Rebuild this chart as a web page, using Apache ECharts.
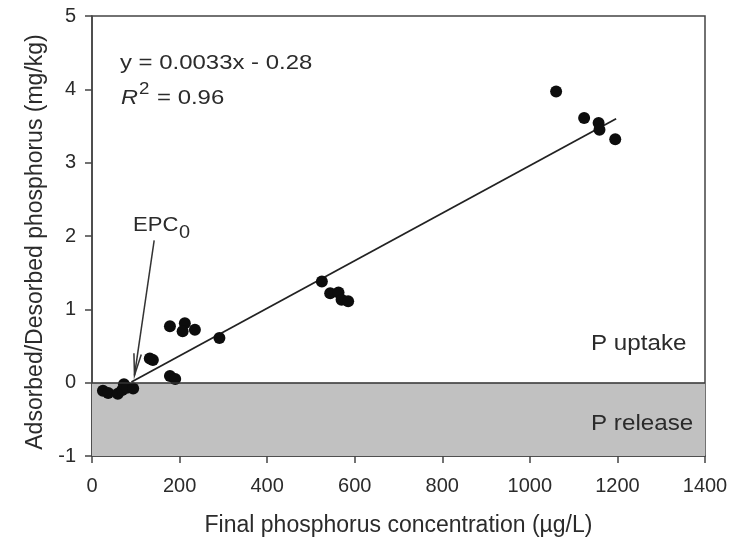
<!DOCTYPE html>
<html><head><meta charset="utf-8">
<script src="https://cdn.jsdelivr.net/npm/echarts@6/dist/echarts.min.js"></script>
<style>html,body{margin:0;padding:0;background:#fff}#c{width:737px;height:542px}</style>
</head><body><div id="c"></div>
<script>
// Data
const pointsX = [25, 37, 59, 69, 73, 80, 94, 132, 139, 178, 190, 178, 212, 207, 235, 291, 525, 544, 563, 570, 585, 1060, 1124, 1157, 1159, 1195];
const pointsY = [-0.11, -0.14, -0.15, -0.10, -0.02, -0.07, -0.08, 0.33, 0.31, 0.09, 0.05, 0.77, 0.81, 0.70, 0.72, 0.61, 1.38, 1.22, 1.23, 1.13, 1.11, 3.97, 3.61, 3.54, 3.45, 3.32];
const fitX = [90, 1197];
const fitY = [0.01, 3.60];
const xTicks = [0, 200, 400, 600, 800, 1000, 1200, 1400];
const yTicks = [-1, 0, 1, 2, 3, 4, 5];
const arrowFrom = [142, 1.94];
const arrowTo = [97, 0.1];

const FONT = 'Liberation Sans, Arial, sans-serif';
const TXT = '#2b2b2b';
const chart = echarts.init(document.getElementById('c'), null, {renderer: 'canvas'});
const scatter = pointsX.map((x, i) => [x, pointsY[i]]);
const fit = fitX.map((x, i) => [x, fitY[i]]);

chart.setOption({
  animation: false,
  backgroundColor: '#fff',
  grid: {left: 92, right: 32, top: 16, bottom: 83, show: true, borderColor: '#444', borderWidth: 1.5},
  xAxis: {
    type: 'value', min: xTicks[0], max: xTicks[xTicks.length - 1], interval: 200,
    name: 'Final phosphorus concentration (µg/L)', nameLocation: 'middle', nameGap: 58,
    nameTextStyle: {fontFamily: FONT, fontSize: 23, color: TXT},
    axisLine: {show: true, onZero: false, lineStyle: {color: '#444', width: 1.5}},
    axisTick: {show: true, inside: false, length: 7, lineStyle: {color: '#444', width: 1.5}},
    axisLabel: {fontFamily: FONT, fontSize: 20, color: TXT, margin: 20, formatter: v => String(v)},
    splitLine: {show: false}
  },
  yAxis: {
    type: 'value', min: yTicks[0], max: yTicks[yTicks.length - 1], interval: 1,
    name: 'Adsorbed/Desorbed phosphorus (mg/kg)', nameLocation: 'middle', nameGap: 42,
    nameTextStyle: {fontFamily: FONT, fontSize: 23, color: TXT, padding: [0, 12, 0, 0]},
    axisLine: {show: true, onZero: false, lineStyle: {color: '#444', width: 1.5}},
    axisTick: {show: true, inside: false, length: 7, lineStyle: {color: '#444', width: 1.5}},
    axisLabel: {fontFamily: FONT, fontSize: 20, color: TXT, margin: 16, formatter: v => String(v)},
    splitLine: {show: false}
  },
  series: [
    {
      type: 'line', data: [], silent: true,
      markArea: {silent: true, itemStyle: {color: '#c1c1c1'}, data: [[{yAxis: -1}, {yAxis: 0}]]},
      markLine: {silent: true, symbol: ['none', 'none'], label: {show: false},
        lineStyle: {color: '#333', width: 1.5, type: 'solid'}, data: [{yAxis: 0}]}
    },
    {
      type: 'line', data: fit, showSymbol: false, symbol: 'none',
      lineStyle: {color: '#222', width: 1.8}, z: 3
    },
    {
      type: 'scatter', data: scatter, symbolSize: 12,
      itemStyle: {color: '#0d0d0d', opacity: 1}, z: 4
    }
  ]
});

const p0 = chart.convertToPixel({gridIndex: 0}, arrowFrom);
const p1 = chart.convertToPixel({gridIndex: 0}, arrowTo);
const ang = Math.atan2(p1[1] - p0[1], p1[0] - p0[0]);
const hl = 22, ha = 0.17;
const b1 = [p1[0] - hl * Math.cos(ang - ha), p1[1] - hl * Math.sin(ang - ha)];
const b2 = [p1[0] - hl * Math.cos(ang + ha), p1[1] - hl * Math.sin(ang + ha)];

function txt(s, x, y, size, sx, extra) {
  return Object.assign({
    type: 'text', x: x, y: y, scaleX: sx, z: 10,
    style: {text: s, font: size + 'px ' + FONT, fill: TXT, align: 'left', verticalAlign: 'middle'}
  }, extra || {});
}
const rItalic = txt('R', 121, 98, 21, 1.12);
rItalic.style.font = 'italic 21px ' + FONT;

chart.setOption({
  graphic: [
    {type: 'line', shape: {x1: p0[0], y1: p0[1], x2: p1[0], y2: p1[1]}, style: {stroke: '#333', lineWidth: 1.5}, z: 10},
    {type: 'polyline', shape: {points: [b1, p1, b2]}, style: {stroke: '#333', lineWidth: 1.5, fill: null}, z: 10},
    txt('y = 0.0033x - 0.28', 120, 63.5, 21, 1.14),
    rItalic,
    txt('2', 139, 89, 17, 1.1),
    txt('= 0.96', 157, 98, 21, 1.14),
    txt('EPC', 133, 225.5, 21, 1.05),
    txt('0', 179, 232.5, 19, 1.05),
    txt('P uptake', 591, 344, 22, 1.1),
    txt('P release', 591, 424, 22, 1.1)
  ]
});
</script></body></html>
